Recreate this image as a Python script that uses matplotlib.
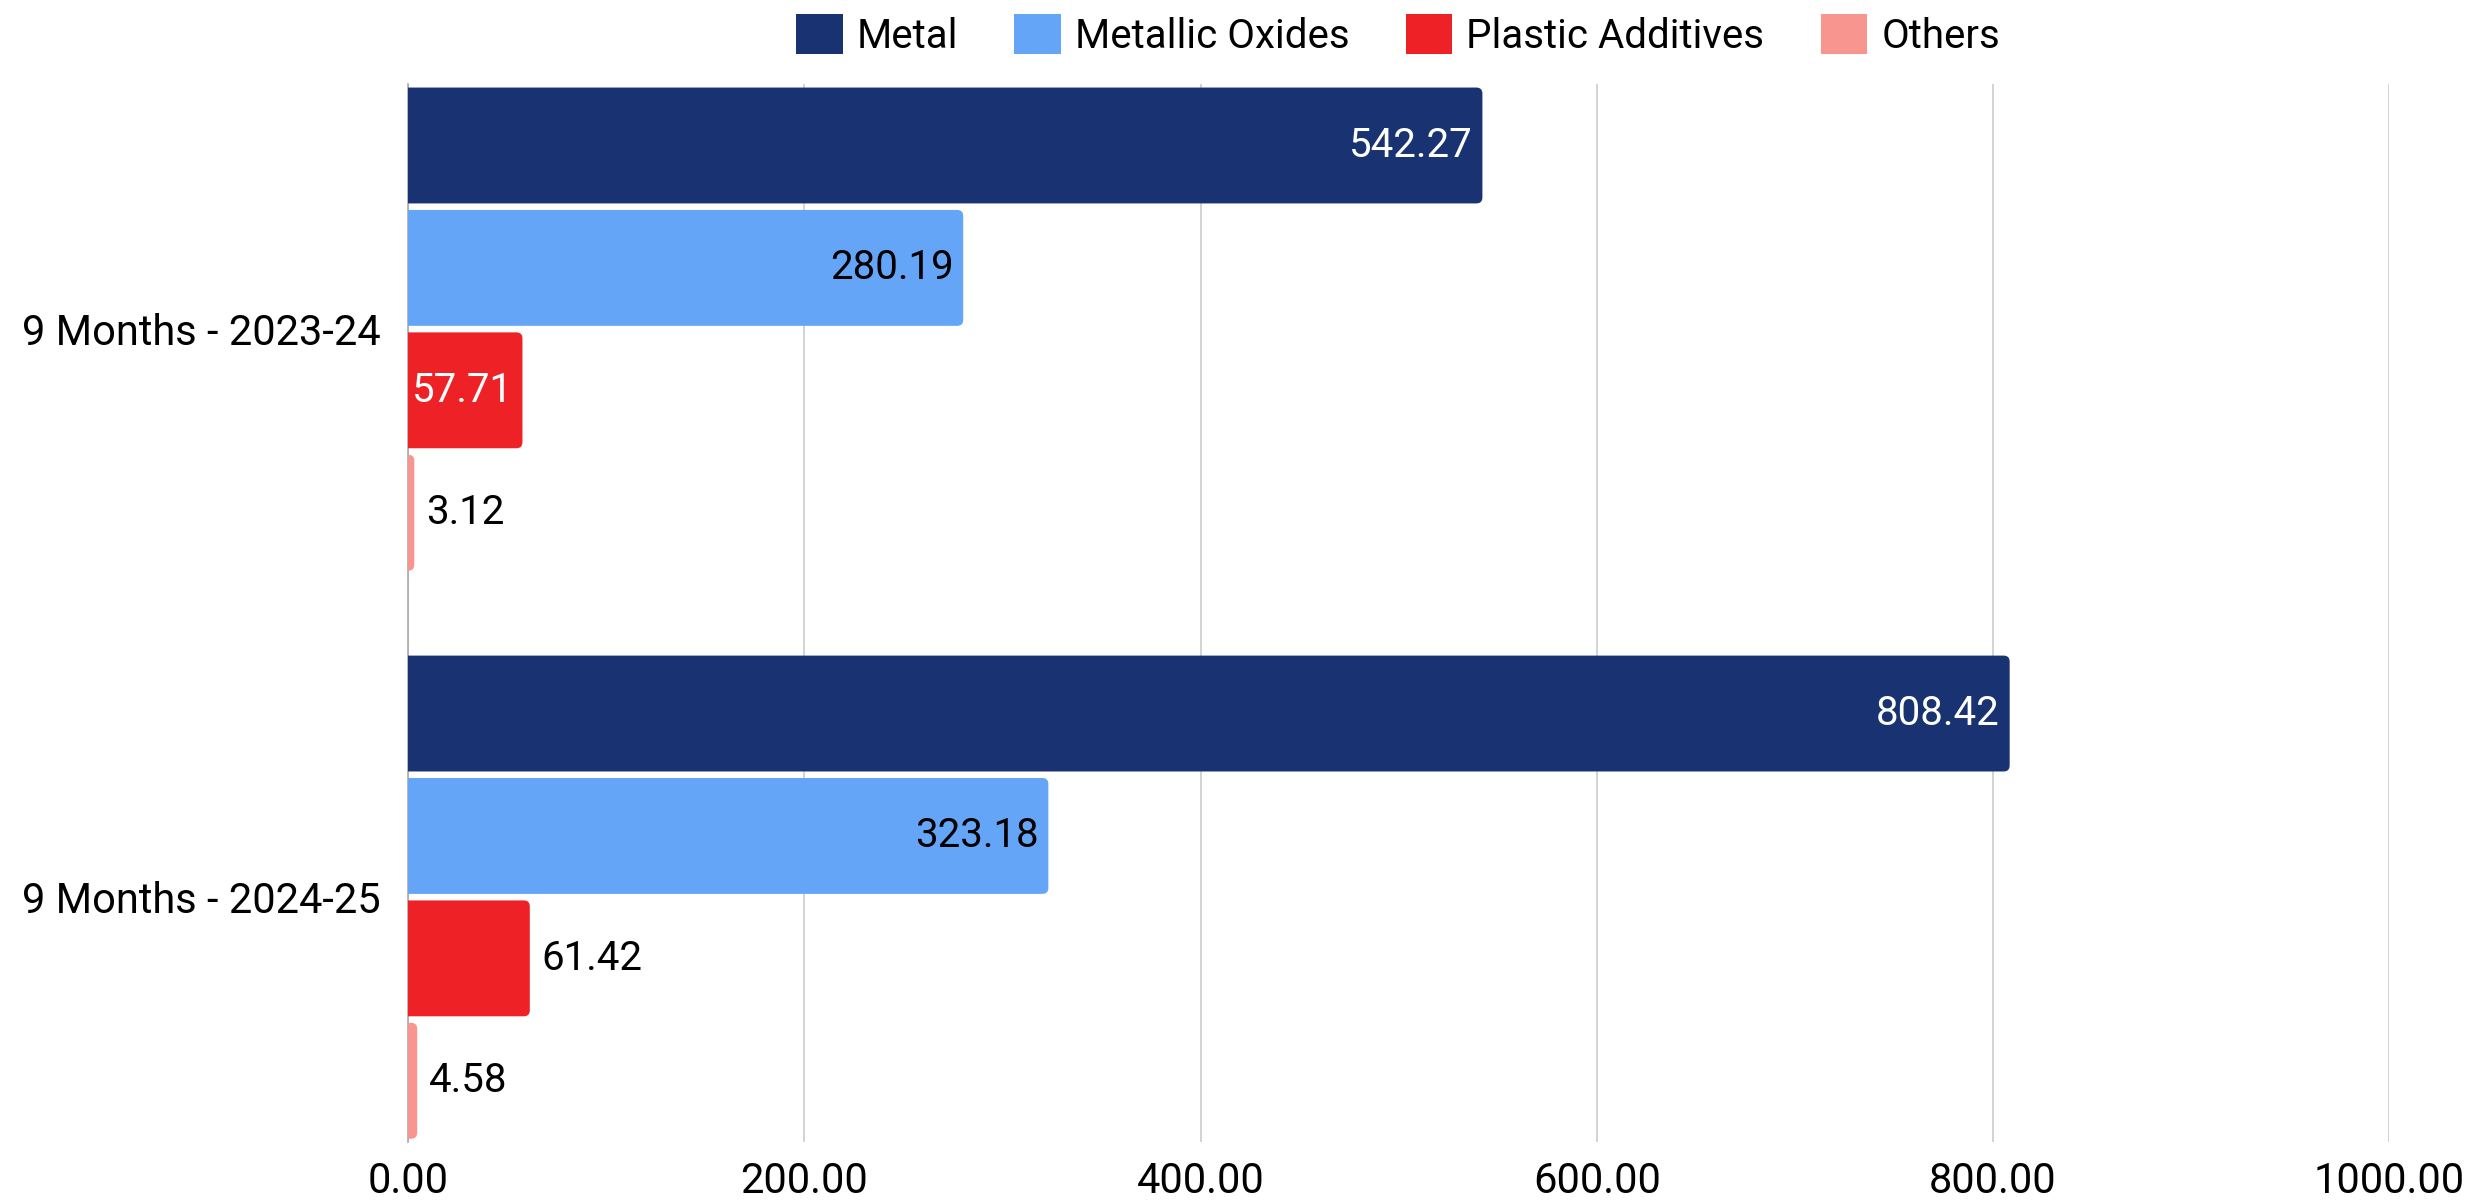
import numpy as np
import matplotlib.pyplot as plt
from matplotlib.patches import FancyBboxPatch, Patch

plt.rcParams['font.family'] = ['Roboto', 'DejaVu Sans']

periods = ['9 Months - 2023-24', '9 Months - 2024-25']
series = ['Metal', 'Metallic Oxides', 'Plastic Additives', 'Others']
metal = [542.27, 808.42]
metallic_oxides = [280.19, 323.18]
plastic_additives = [57.71, 61.42]
others = [3.12, 4.58]

colors = ['#193372', '#64A5F8', '#EE2226', '#F7958E']
# label placement per series / period: (inside?, text colour)
label_style = [
    [(True, 'white'), (True, 'white')],
    [(True, 'black'), (True, 'black')],
    [(True, 'white'), (False, 'black')],
    [(False, 'black'), (False, 'black')],
]

values = [metal, metallic_oxides, plastic_additives, others]

fig = plt.figure(figsize=(24.81, 12.04), dpi=100)
ax = fig.add_axes([0.1645, 0.0515, 0.7985, 0.8785])

slot = 0.2155
bar_h = 0.204
centers = np.arange(len(periods))
n = len(series)

xlim = (0, 1000)
ylim = (centers[-1] + n * slot / 2, centers[0] - n * slot / 2)
ax.set_xlim(*xlim)
ax.set_ylim(*ylim)

# data units per pixel, for rounded corners
bb = ax.get_position()
w_px = bb.width * fig.get_figwidth() * fig.dpi
h_px = bb.height * fig.get_figheight() * fig.dpi
x_per_px = (xlim[1] - xlim[0]) / w_px
y_per_px = abs(ylim[0] - ylim[1]) / h_px
aspect = y_per_px / x_per_px
r = 6 * x_per_px

for i, (name, vals, col) in enumerate(zip(series, values, colors)):
    ys = centers - n * slot / 2 + slot * (i + 0.5)
    bars = ax.barh(ys, vals, height=bar_h, color=col, label=name)
    for b in bars:
        b.set_visible(False)
        x0, y0, w, h = b.get_x(), b.get_y(), b.get_width(), b.get_height()
        p = FancyBboxPatch((x0 - r, y0), w + r, h,
                           boxstyle=f'round,pad=0,rounding_size={r}',
                           mutation_aspect=aspect, facecolor=col,
                           edgecolor='none', zorder=3)
        ax.add_patch(p)
    for j, (y, v) in enumerate(zip(ys, vals)):
        inside, tc = label_style[i][j]
        if inside:
            ax.text(v - 5, y, f'{v:.2f}', ha='right', va='center',
                    color=tc, fontsize=29, zorder=4)
        else:
            ax.text(v + 6, y, f'{v:.2f}', ha='left', va='center',
                    color=tc, fontsize=29, zorder=4)

ax.set_yticks(centers)
ax.set_yticklabels(periods)
ax.set_xticks(np.arange(0, 1001, 200))
ax.set_xticklabels([f'{t:.2f}' for t in np.arange(0, 1001, 200)])
ax.tick_params(axis='both', length=0, labelsize=30)
ax.tick_params(axis='y', pad=20)
ax.tick_params(axis='x', pad=14)

ax.grid(axis='x', color='#CCCCCC', linewidth=1.2, zorder=0)
ax.set_axisbelow(True)
for s in ['top', 'right', 'bottom']:
    ax.spines[s].set_visible(False)
ax.spines['left'].set_color('#AAAAAA')
ax.spines['left'].set_linewidth(1.2)
ax.spines['left'].set_zorder(1)

handles = [Patch(facecolor=c, label=s) for s, c in zip(series, colors)]
fig.legend(handles=handles, loc='center', bbox_to_anchor=(0.5635, 0.971),
           ncol=4, frameon=False, fontsize=29, handlelength=1.15,
           handleheight=1.15, handletextpad=0.35, columnspacing=1.4)

fig.savefig('out.png', dpi=100)
